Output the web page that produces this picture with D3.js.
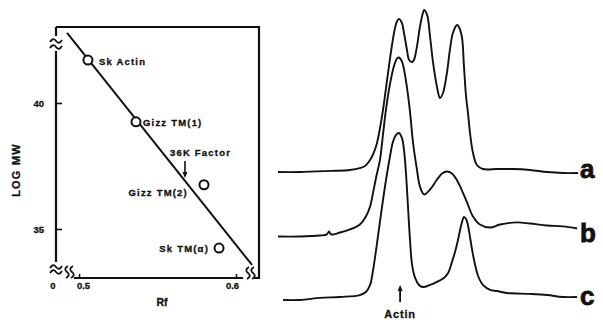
<!DOCTYPE html>
<html>
<head>
<meta charset="utf-8">
<script src="https://cdn.jsdelivr.net/npm/d3@7"></script>
<style>
  body { margin: 0; background: #fff; }
  svg { display: block; }
  text { font-family: "Liberation Sans", Arial, sans-serif; font-weight: bold; fill: #111; stroke: #111; stroke-width: 0.3px; }
  .lbl { font-size: 9.5px; letter-spacing: 1.2px; }
</style>
</head>
<body>
<svg id="chart" width="603" height="322"></svg>
<script>
// ---- left panel: log MW vs Rf ----
var standards = ['Sk Actin', 'Gizz TM(1)', 'Gizz TM(2)', 'Sk TM(α)'];
var standardRf = [0.5057, 0.5363, 0.5796, 0.5892];
var standardMw = [41.86, 39.21, 36.68, 34.30];
var fitRf = [0.4924, 0.6102];
var fitMw = [43.09, 33.69];
var factorRf = 0.5675;
var mwTicks = [35, 40];
var rfTicks = [0.5, 0.6];

// ---- right panel: densitometer scans ----
var scanNames = ['a', 'b', 'c'];
var posA = [0, 7.3, 17.3, 24, 27.3, 29, 30.7, 32, 33, 34, 35, 36, 37, 38, 39, 39.7, 40.3, 41.3, 42, 43, 43.7, 44.7, 45.3, 46.3, 47.3, 48.3, 48.7, 49.7, 50.7, 51.7, 53, 54, 55, 56.3, 57.3, 58.3, 59.7, 60.3, 61.3, 62, 62.7, 63.3, 64, 65, 66.3, 68.3, 73, 78.3, 84, 89.7, 95, 100];
var absA = [0.6, 0.6, 1.3, 1.9, 3.1, 4.4, 8.1, 13.1, 18.8, 28.1, 39.4, 53.1, 66.9, 80, 90.6, 95, 96.3, 93.8, 87.5, 76.9, 70.6, 69.4, 70.6, 78.8, 91.3, 100, 101.9, 98.8, 85, 68.8, 53.8, 46.9, 50, 62.5, 76.9, 87.5, 92.5, 91.3, 85, 66.3, 47.5, 38.1, 25, 12.5, 5, 2.5, 2.5, 2.5, 1.9, 0.6, 0, 0];
var posB = [0, 7.3, 14, 16.3, 17, 17.7, 20.7, 24, 27.3, 29.3, 30.7, 31.7, 32.7, 34, 35, 36, 37.3, 38.7, 39.7, 40.3, 41.3, 42.3, 43.3, 44, 45, 46.3, 47.3, 48.7, 50.7, 53, 54.7, 56.3, 58, 59.3, 60.7, 63, 65, 67.3, 70.7, 74, 79.7, 84, 89.7, 95, 99.7];
var absB = [0, 0, 0.6, 1.3, 3.1, 1.3, 2.5, 4.4, 7.5, 12.5, 18.8, 27.5, 36.9, 48.1, 63.8, 79.4, 95, 106.9, 111.3, 111.9, 109.4, 101.3, 88.8, 78.1, 58.8, 41.9, 31.3, 26.3, 29.4, 35.6, 39.4, 40.6, 39.4, 36.3, 31.3, 21.3, 12.5, 7.5, 5.6, 7.5, 8.8, 8.1, 6.9, 6.3, 5];
var posC = [1.7, 7.3, 14, 20.7, 27.3, 29.3, 30.7, 31.7, 32.7, 33.7, 35, 36, 37.3, 38.3, 39.3, 40.3, 41.3, 42, 42.7, 43.3, 44, 44.7, 45.7, 47, 48.3, 50.7, 53, 55.3, 56.7, 58, 59, 60, 61, 62, 62.7, 63.3, 64, 64.7, 65.7, 66.7, 68.3, 70.7, 73, 76.3, 84, 89.7, 95, 99.7];
var absC = [0, 0, 1.3, 1.9, 3.1, 5, 9.4, 18.8, 31.3, 45, 62.5, 75, 89.4, 98.8, 103.1, 104.4, 101.3, 93.8, 78.1, 59.4, 37.5, 21.9, 13.8, 9.4, 8.1, 9.4, 11.3, 13.8, 16.9, 23.8, 30, 37.5, 46.3, 51.9, 50.6, 46.9, 39.4, 31.3, 21.9, 15, 9.4, 6.3, 5.6, 4.4, 3.8, 3.1, 1.9, 1.9];
var actinPos = 40.7;

var svg = d3.select('#chart');

// ---------------- left panel ----------------
var box = { left: 56, right: 259, top: 27, bottom: 278 };
var x = d3.scaleLinear().domain([0.5, 0.6]).range([79, 236]);
var y = d3.scaleLog().domain([35, 40]).range([229, 103]);

var frame = svg.append('g')
  .attr('fill', 'none')
  .attr('stroke', '#111')
  .attr('stroke-width', 2.2);

// top + right edge, with the little foot at bottom right
frame.append('path')
  .attr('d', 'M' + box.left + ',' + box.top + 'H' + box.right + 'V' + box.bottom + 'H' + (box.right - 5));
// left axis, broken near top
frame.append('path').attr('d', 'M' + box.left + ',' + box.top + 'V36');
frame.append('path').attr('d', 'M' + box.left + ',51V262');
// bottom axis between the breaks
frame.append('path').attr('d', 'M74,' + box.bottom + 'H243');

// break glyphs
var brk = svg.append('g')
  .attr('fill', 'none')
  .attr('stroke', '#111')
  .attr('stroke-width', 1.8);
function tilde(cx, cy) {
  return 'M' + (cx - 6) + ',' + (cy + 2) + 'q3,-5 6,-1 t6,-1';
}
function esh(cx, cy) {
  return 'M' + (cx + 2) + ',' + (cy - 6) + 'q-5,3 -1,6 t-1,6';
}
brk.append('path').attr('d', tilde(box.left, 40));
brk.append('path').attr('d', tilde(box.left, 46));
brk.append('path').attr('d', tilde(box.left, 266));
brk.append('path').attr('d', tilde(box.left, 271));
brk.append('path').attr('d', esh(66, 272));
brk.append('path').attr('d', esh(71, 272));
brk.append('path').attr('d', esh(247, 273));
brk.append('path').attr('d', esh(252, 273));

// y axis ticks
var yAxis = d3.axisLeft(y).tickValues(mwTicks).tickSize(-6).tickPadding(12).tickFormat(d3.format('d'));
var gy = svg.append('g').attr('transform', 'translate(' + box.left + ',0)').call(yAxis);
gy.select('.domain').remove();
gy.selectAll('line').attr('stroke', '#111').attr('stroke-width', 1.6);
gy.selectAll('text').attr('font-size', 9.5).attr('font-family', null).attr('fill', null);

// x axis ticks
var xAxis = d3.axisBottom(x).tickValues(rfTicks).tickSize(-4).tickPadding(4).tickFormat(d3.format('.1f'));
var gx = svg.append('g').attr('transform', 'translate(0,' + box.bottom + ')').call(xAxis);
gx.select('.domain').remove();
gx.selectAll('line').attr('stroke', '#111').attr('stroke-width', 1.6);
gx.selectAll('text').attr('font-size', 9.5).attr('font-family', null).attr('fill', null)
  .attr('dx', function (d) { return d === 0.5 ? 4 : -4; });

svg.append('text').attr('x', 53).attr('y', 289).attr('text-anchor', 'middle')
  .attr('font-size', 9.5).text('0');

svg.append('text').attr('x', 162).attr('y', 306).attr('text-anchor', 'middle')
  .attr('font-size', 10.5).text('Rf');
svg.append('text')
  .attr('transform', 'translate(20,170) rotate(-90)')
  .attr('text-anchor', 'middle').attr('font-size', 11).attr('letter-spacing', 1.2)
  .text('LOG MW');

// fit line
var fit = fitRf.map(function (r, i) { return [x(r), y(fitMw[i])]; });
svg.append('path')
  .attr('d', d3.line()(fit))
  .attr('fill', 'none').attr('stroke', '#111').attr('stroke-width', 2);

// standards
var pts = standards.map(function (name, i) {
  return { name: name, rf: standardRf[i], mw: standardMw[i] };
});
svg.append('g').selectAll('circle').data(pts).enter().append('circle')
  .attr('cx', function (d) { return x(d.rf); })
  .attr('cy', function (d) { return y(d.mw); })
  .attr('r', 4.5)
  .attr('fill', '#fff').attr('stroke', '#111').attr('stroke-width', 2);

var labelOffsets = [[11, 5, 'start'], [7, 4, 'start'], [-16, 11, 'end'], [-10, 4, 'end']];
svg.append('g').selectAll('text').data(pts).enter().append('text')
  .attr('class', 'lbl')
  .attr('x', function (d, i) { return x(d.rf) + labelOffsets[i][0]; })
  .attr('y', function (d, i) { return y(d.mw) + labelOffsets[i][1]; })
  .attr('text-anchor', function (d, i) { return labelOffsets[i][2]; })
  .text(function (d) { return d.name; });

// 36K factor arrow
var fx = x(factorRf);
svg.append('text').attr('class', 'lbl').attr('x', fx - 15).attr('y', 156).text('36K Factor');
svg.append('line').attr('x1', fx).attr('x2', fx).attr('y1', 161).attr('y2', 176)
  .attr('stroke', '#111').attr('stroke-width', 1.6);
svg.append('path').attr('d', 'M' + (fx - 2.5) + ',172L' + fx + ',178L' + (fx + 2.5) + ',172Z')
  .attr('fill', '#111');

// ---------------- right panel ----------------
var xs = d3.scaleLinear().domain([0, 100]).range([278, 578]);
var base = d3.scalePoint().domain(scanNames).range([173, 300]);
var hs = d3.scaleLinear().domain([0, 100]).range([0, 160]);

var scans = [
  { name: 'a', pos: posA, abs: absA },
  { name: 'b', pos: posB, abs: absB },
  { name: 'c', pos: posC, abs: absC }
];

scans.forEach(function (s) {
  var b0 = base(s.name);
  var line = d3.line()
    .x(function (d) { return xs(d[0]); })
    .y(function (d) { return b0 - hs(d[1]); })
    .curve(d3.curveCatmullRom.alpha(0.5));
  svg.append('path')
    .attr('d', line(s.pos.map(function (p, i) { return [p, s.abs[i]]; })))
    .attr('fill', 'none').attr('stroke', '#111').attr('stroke-width', 1.9);
  svg.append('text')
    .attr('x', 580).attr('y', b0 + 5)
    .attr('font-size', 26).style('stroke-width', '0.8px')
    .text(s.name);
});

// actin marker
var ax = xs(actinPos);
svg.append('line').attr('x1', ax).attr('x2', ax).attr('y1', 288).attr('y2', 302)
  .attr('stroke', '#111').attr('stroke-width', 1.8);
svg.append('path').attr('d', 'M' + (ax - 2.5) + ',291L' + ax + ',285L' + (ax + 2.5) + ',291Z')
  .attr('fill', '#111');
svg.append('text').attr('x', ax).attr('y', 318).attr('text-anchor', 'middle')
  .attr('font-size', 11).attr('letter-spacing', 0.8).text('Actin');
</script>
</body>
</html>
